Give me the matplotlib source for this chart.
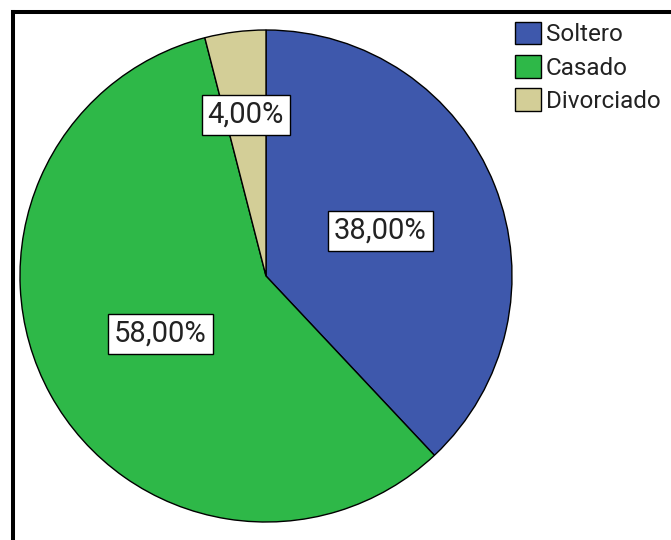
import numpy as np
import matplotlib.pyplot as plt
from matplotlib.lines import Line2D

# datos
categorias = ['Soltero', 'Casado', 'Divorciado']
porcentajes = [38.0, 58.0, 4.0]
colores = ['#3E58AC', '#2EB848', '#D3CE97']
etiquetas = ['38,00%', '58,00%', '4,00%']

plt.rcParams['font.family'] = ['Roboto', 'DejaVu Sans']

W, H = 671, 540
fig = plt.figure(figsize=(W / 100, H / 100), dpi=100)
fig.patch.set_facecolor('white')

# marco negro (sale por la derecha y por abajo)
fig.add_artist(Line2D([13 / W, 13 / W], [0, 1 - 11.5 / H], color='black', lw=2.9,
                      solid_capstyle='projecting', transform=fig.transFigure))
fig.add_artist(Line2D([13 / W, 1], [1 - 11.5 / H, 1 - 11.5 / H], color='black', lw=2.9,
                      solid_capstyle='projecting', transform=fig.transFigure))

# tarta
ax = fig.add_axes([20 / W, 18 / H, 492 / W, 492 / H])
wedges, textos = ax.pie(porcentajes, colors=colores, startangle=90, counterclock=False,
                        radius=1.0, wedgeprops=dict(edgecolor='black', linewidth=1.0),
                        labels=None)
ax.set_xlim(-1, 1)
ax.set_ylim(-1, 1)
ax.set_aspect('equal')
ax.axis('off')

# etiquetas dentro de las porciones
dist = [0.50, 0.49, 0.66]
for w, txt, d in zip(wedges, etiquetas, dist):
    ang = np.deg2rad((w.theta1 + w.theta2) / 2)
    ax.text(d * np.cos(ang), d * np.sin(ang), txt, ha='center', va='center',
            fontsize=21, color='#222222',
            bbox=dict(boxstyle='square,pad=0.2', facecolor='white', edgecolor='black', linewidth=1.0))

# leyenda
leg = fig.legend(wedges, categorias, loc='upper left', bbox_to_anchor=(515 / W, 1 - 22 / H),
                 frameon=False, fontsize=17.5, handlelength=1.08, handleheight=1.04,
                 handletextpad=0.2, labelspacing=0.36, borderpad=0, borderaxespad=0)
for t in leg.get_texts():
    t.set_color('#222222')

fig.savefig('out.png', dpi=100)
